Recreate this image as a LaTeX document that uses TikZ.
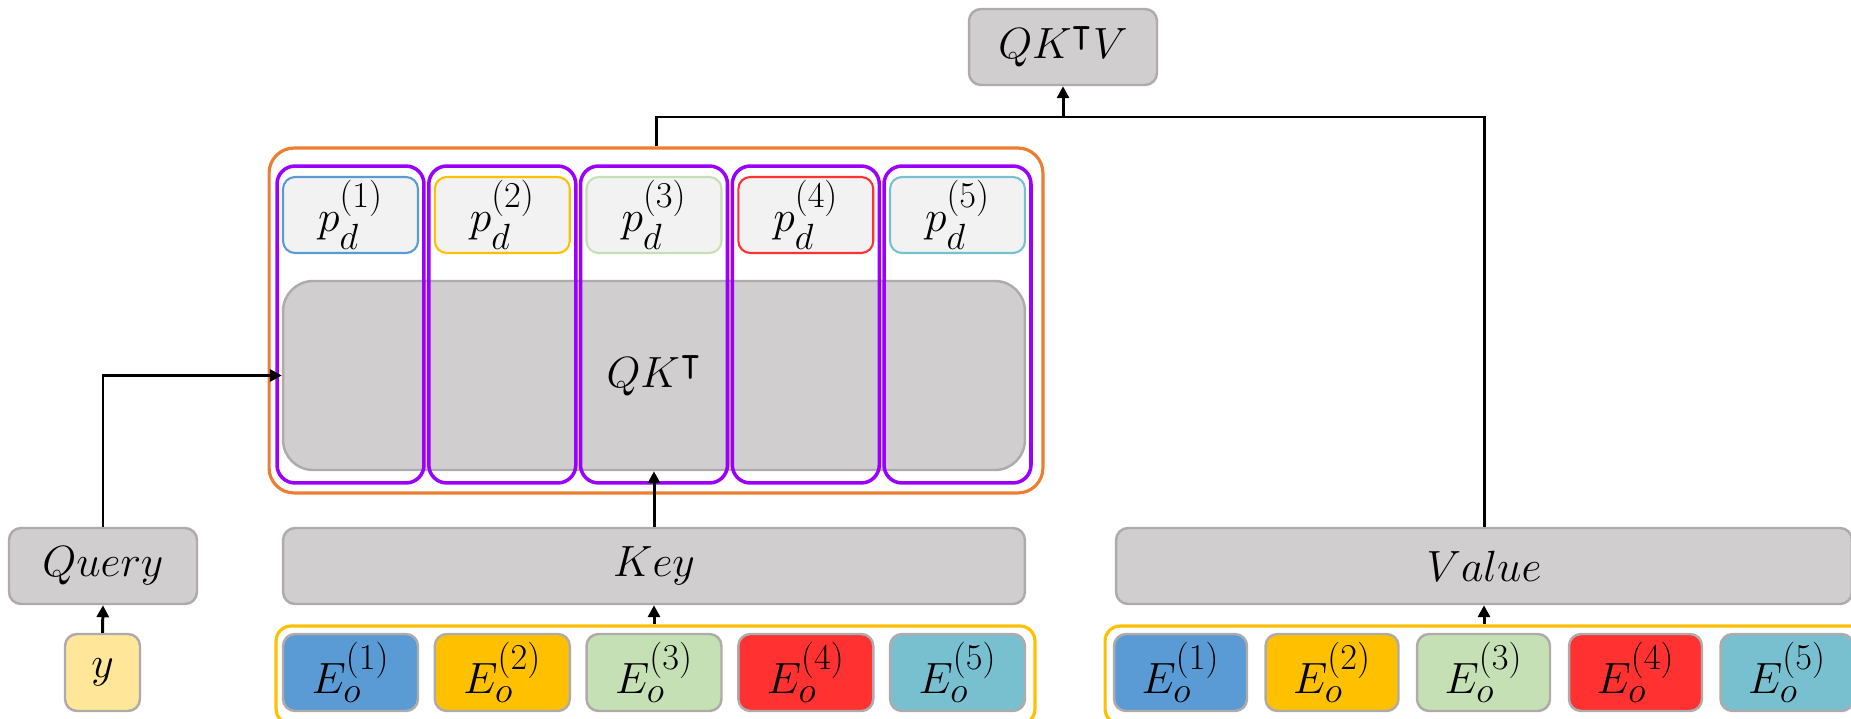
\documentclass[tikz,border=0pt]{standalone}
\usepackage{amssymb}
\usetikzlibrary{arrows.meta}
\DeclareMathSizes{28}{28}{21}{16}
\definecolor{gfill}{HTML}{D0CECE}
\definecolor{gline}{HTML}{AFABAB}
\definecolor{pfill}{HTML}{F2F2F2}
\definecolor{cblue}{HTML}{5B9BD5}
\definecolor{cgold}{HTML}{FFC000}
\definecolor{cgreen}{HTML}{C5E0B4}
\definecolor{cred}{HTML}{FF3131}
\definecolor{cteal}{HTML}{78C0D0}
\definecolor{cyel}{HTML}{FFE699}
\definecolor{corange}{HTML}{ED7D31}
\definecolor{cpurple}{HTML}{9B00FF}
\tikzset{
  lbl/.style={font=\fontsize{28}{32}\selectfont, inner sep=0pt, align=center},
  graybox/.style={lbl, draw=gline, fill=gfill, line width=1.4pt, rounded corners=0.24cm},
  pbox/.style={lbl, fill=pfill, line width=1.2pt, rounded corners=0.24cm},
  ebox/.style={lbl, draw=gline, line width=1.4pt, rounded corners=0.24cm},
  pgrp/.style={draw=cpurple, line width=2pt, rounded corners=0.36cm, inner sep=0pt},
  ogrp/.style={draw=corange, line width=1.8pt, rounded corners=0.5cm, inner sep=0pt},
  ygrp/.style={draw=cgold, line width=1.8pt, rounded corners=0.3cm, inner sep=0pt},
  conn/.style={line width=1.7pt, black},
  arr/.style={conn, -{Triangle[length=0.24cm, width=0.24cm]}},
}
\begin{document}
\begin{tikzpicture}[x=0.02cm, y=-0.02cm]
\useasboundingbox (0,0) rectangle (1851,719);
% top result
\node[graybox, minimum width=3.76cm, minimum height=1.52cm] (qkv) at (1063,47) {$QK^{\intercal}V$};
% attention block
\node[ogrp, minimum width=15.48cm, minimum height=6.9cm] (orange) at (656,320.5) {};
\node[graybox, rounded corners=0.6cm, minimum width=14.84cm, minimum height=3.78cm] (qk) at (654,375.5) {$QK^{\intercal}$};
\foreach \i/\c/\col in {1/350.5/cblue, 2/502.3/cgold, 3/654/cgreen, 4/805.8/cred, 5/957.5/cteal} {
  \node[pgrp, minimum width=2.94cm, minimum height=6.34cm] (grp\i) at (\c,324.5) {};
  \node[pbox, draw=\col, minimum width=2.7cm, minimum height=1.52cm] (p\i) at (\c,215) {$p_d^{(\i)}$};
}
% inputs
\node[graybox, minimum width=3.76cm, minimum height=1.52cm] (query) at (103,566) {$Query$};
\node[graybox, minimum width=14.84cm, minimum height=1.52cm] (key) at (654,566) {$Key$};
\node[graybox, minimum width=14.72cm, minimum height=1.52cm] (value) at (1484,566) {$Value$};
\node[ebox, fill=cyel, minimum width=1.5cm, minimum height=1.54cm] (y) at (102.5,672.5) {$y$};
% embedding groups
\node[ygrp, minimum width=15.18cm, minimum height=1.96cm] (kgrp) at (655.5,675) {};
\node[ygrp, minimum width=15.3cm, minimum height=1.96cm] (vgrp) at (1487.5,675) {};
\foreach \i/\c/\col in {1/350.5/cblue, 2/502.3/cgold, 3/654/cgreen, 4/805.8/cred, 5/957.5/cteal} {
  \node[ebox, fill=\col, minimum width=2.7cm, minimum height=1.54cm] (ek\i) at (\c,672.5) {$E_o^{(\i)}$};
}
\foreach \i/\c/\col in {1/1180.5/cblue, 2/1332/cgold, 3/1483.5/cgreen, 4/1635.5/cred, 5/1787/cteal} {
  \node[ebox, fill=\col, minimum width=2.66cm, minimum height=1.54cm] (ev\i) at (\c,672.5) {$E_o^{(\i)}$};
}
% connectors
\draw[arr] (y.north) -- (query.south);
\draw[arr] (query.north) |- (qk.west);
\draw[arr] (key.south |- kgrp.north) -- (key.south);
\draw[arr] (key.north) -- (qk.south);
\draw[arr] (value.south |- vgrp.north) -- (value.south);
\coordinate (j) at (1063,117);
\draw[conn] (orange.north) |- (j);
\draw[conn] (value.north) |- (j);
\draw[arr] (j) -- (qkv.south);
\end{tikzpicture}
\end{document}
